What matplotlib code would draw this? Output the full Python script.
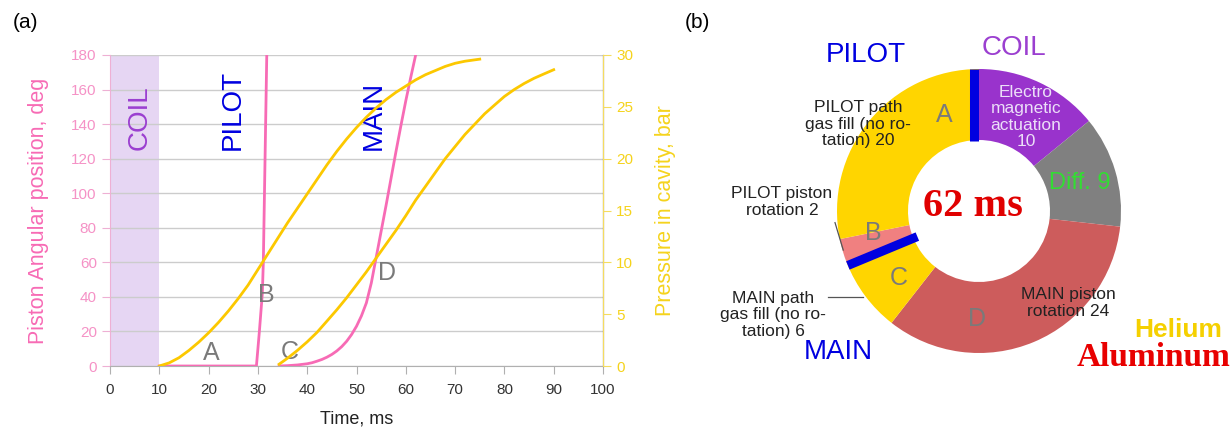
import matplotlib
matplotlib.use('Agg')
import matplotlib.pyplot as plt
import numpy as np

plt.rcParams['font.family'] = ['Liberation Sans', 'DejaVu Sans']

# (a) piston angle (deg) and cavity pressure (bar) vs time (ms)
pilot_angle_t = [10, 29.7, 30.3, 30.9, 31.1, 31.8]
pilot_angle = [0, 0, 20, 42, 60, 180]

main_angle_t = [34.3, 36, 38, 40, 41, 42, 43, 44, 45, 46, 47, 48, 49, 50, 51, 52, 53,
                54, 55, 56, 57, 58, 59, 60, 61, 62]
main_angle = [0, 0.2, 0.6, 1.3, 1.9, 2.8, 3.8, 5.1, 6.7, 8.7, 11.2, 14.3, 18.2, 23, 29,
              36.5, 48, 63, 78, 93, 108.5, 124, 139, 153.5, 167, 180]

pilot_press_t = [10, 12, 14, 16, 18, 20, 22, 24, 26, 28, 30, 32, 34, 36, 38, 40, 42,
                 44, 46, 48, 50, 52, 54, 56, 58, 60, 62, 64, 66, 68, 70, 72, 75]
pilot_press = [0, 0.3, 0.8, 1.5, 2.3, 3.2, 4.2, 5.3, 6.5, 7.8, 9.3, 10.8, 12.3, 13.8,
               15.2, 16.6, 18.0, 19.4, 20.7, 21.9, 23.0, 24.0, 24.9, 25.7, 26.4, 27.0,
               27.6, 28.1, 28.5, 28.9, 29.2, 29.4, 29.6]

main_press_t = [34.3, 36, 38, 40, 42, 44, 46, 48, 50, 52, 54, 56, 58, 60, 62, 64, 66,
                68, 70, 72, 74, 76, 78, 80, 82, 84, 86, 88, 90]
main_press = [0.17, 0.75, 1.5, 2.33, 3.25, 4.33, 5.42, 6.58, 7.83, 9.08, 10.42, 11.75,
              13.08, 14.5, 16.0, 17.33, 18.67, 20.0, 21.17, 22.33, 23.33, 24.33, 25.17,
              26.0, 26.67, 27.25, 27.75, 28.17, 28.58]

coil_span = (0, 10)
phase_letters = ['A', 'B', 'C', 'D']
phase_letter_xy = [(20.6, 7.3), (31.8, 41), (36.5, 8.3), (56.1, 53.6)]
stage_names = ['COIL', 'PILOT', 'MAIN']
stage_x = [6.1, 24.9, 53.4]

# (b) time budget donut, clockwise from the top
seg_values = [10, 9, 24, 6, 2, 20]
seg_colors = ['#9933cc', '#808080', '#cd5c5c', '#ffd500', '#f08080', '#ffd500']
total_ms = 62

PINK = '#f76bb5'
PINK_T = '#f592c6'
YEL = '#fcc800'
YEL_T = '#f5d31c'
BLUE = '#0000e0'
PURP = '#9b3fd0'
GRAY_L = '#7a7a7a'

W, H = 1231, 430
fig = plt.figure(figsize=(W / 100, H / 100), dpi=100)


def fx(x, y):
    return x / W, 1 - y / H


# ---------------- panel (a) ----------------
ax = fig.add_axes([110 / W, 1 - 366 / H, (603 - 110) / W, (366 - 55) / H])
ax2 = ax.twinx()

ax.axvspan(*coil_span, color='#e6d6f3', lw=0, zorder=0)
ax.plot(pilot_angle_t, pilot_angle, color=PINK, lw=2, zorder=3)
ax.plot(main_angle_t, main_angle, color=PINK, lw=2, zorder=3)
ax2.plot(pilot_press_t, pilot_press, color=YEL, lw=2, zorder=3)
ax2.plot(main_press_t, main_press, color=YEL, lw=2, zorder=3)

ax.set_xlim(0, 100)
ax.set_ylim(0, 180)
ax2.set_ylim(0, 30)
ax.set_xticks(np.arange(0, 101, 10))
ax.set_yticks(np.arange(0, 181, 20))
ax2.set_yticks(np.arange(0, 31, 5))
ax.grid(axis='y', color='#cccccc', lw=1)
ax.set_axisbelow(True)

for a in (ax, ax2):
    a.spines['top'].set_visible(False)
ax.spines['left'].set_color('#eeb0d4')
ax.spines['bottom'].set_color('#b0b0b0')
ax2.spines['left'].set_visible(False)
ax2.spines['bottom'].set_visible(False)
ax2.spines['right'].set_color('#f5dc60')

ax.tick_params(axis='x', colors='#b0b0b0', labelcolor='#333333', labelsize=11,
               length=6, pad=6)
ax.tick_params(axis='y', colors='#eeb0d4', labelcolor=PINK_T, labelsize=11, length=6)
ax2.tick_params(axis='y', colors='#f5dc60', labelcolor=YEL_T, labelsize=11, length=6)

ax.set_xlabel('Time, ms', fontsize=13, color='#222222', labelpad=10)
ax.set_ylabel('Piston Angular position, deg', fontsize=15.5, color=PINK, labelpad=16)
ax2.set_ylabel('Pressure in cavity, bar', fontsize=15.5, color=YEL_T, labelpad=16)

for name, x, c in zip(stage_names, stage_x, [PURP, BLUE, BLUE]):
    ax.text(x, 125, name, rotation=90, ha='center', va='bottom', fontsize=20,
            color=c, zorder=4)
for s, (x, y) in zip(phase_letters, phase_letter_xy):
    ax.text(x, y, s, ha='center', va='center', fontsize=18, color=GRAY_L, zorder=5)

fig.text(*fx(25, 22), '(a)', fontsize=15, ha='center', va='center')
fig.text(*fx(697, 22), '(b)', fontsize=15, ha='center', va='center')

# ---------------- panel (b) ----------------
cx, cy, R = 979, 211, 142
axp = fig.add_axes([(cx - R) / W, 1 - (cy + R) / H, 2 * R / W, 2 * R / H])
axp.pie(seg_values, colors=seg_colors, startangle=90, counterclock=False,
        wedgeprops=dict(width=0.5, linewidth=0))
axp.set_xlim(-1, 1)
axp.set_ylim(-1, 1)
axp.set_aspect('equal')
axp.axis('off')

# blue separators: start of the coil phase, and the C/B boundary
edges = 90 - 360 * np.cumsum(seg_values) / sum(seg_values)
th = np.deg2rad(edges[3] + 1)
axp.plot([-0.032, -0.032], [0.49, 1.0], color=BLUE, lw=6.5, solid_capstyle='butt',
         zorder=5, clip_on=False)
axp.plot([0.47 * np.cos(th), 1.0 * np.cos(th)], [0.47 * np.sin(th), 1.0 * np.sin(th)],
         color=BLUE, lw=6.5, solid_capstyle='butt', zorder=5, clip_on=False)

# leader lines
axp.plot([-1.014, -0.956], [-0.082, -0.275], color='#555555', lw=0.9, clip_on=False)
axp.plot([-1.061, -0.815], [-0.604, -0.604], color='#555555', lw=0.9, clip_on=False)


def t(x, y, s, **kw):
    fig.text(*fx(x, y), s, ha='center', va='center', **kw)


t(866, 55, 'PILOT', fontsize=20, color=BLUE)
t(1014, 48, 'COIL', fontsize=20, color=PURP)
t(838, 352, 'MAIN', fontsize=20, color=BLUE)
t(858, 124, 'PILOT path\ngas fill (no ro-\ntation) 20', fontsize=12.5,
  color='#222222', linespacing=1.1)
t(782, 202, 'PILOT piston\nrotation 2', fontsize=12.5, color='#222222', linespacing=1.1)
t(773, 315, 'MAIN path\ngas fill (no ro-\ntation) 6', fontsize=12.5, color='#222222',
  linespacing=1.1)
t(1068, 303, 'MAIN piston\nrotation 24', fontsize=12.5, color='#222222', linespacing=1.1)
t(1026, 117, 'Electro\nmagnetic\nactuation\n10', fontsize=12.5, color='#ecdff8',
  linespacing=1.1)
t(1080, 183, 'Diff. 9', fontsize=17, color='#33dd33')
t(944, 115, 'A', fontsize=18, color=GRAY_L)
t(873, 233, 'B', fontsize=18, color=GRAY_L)
t(899, 278, 'C', fontsize=18, color=GRAY_L)
t(977, 319, 'D', fontsize=18, color=GRAY_L)
t(973, 206, f'{total_ms} ms', fontsize=29, color='#e00000', fontweight='bold',
  family='Liberation Serif')
t(1178, 330, 'Helium', fontsize=19, color='#f5d000', fontweight='bold')
t(1154, 358, 'Aluminum', fontsize=24, color='#e80000', fontweight='bold',
  family='Liberation Serif')

fig.savefig('out.png', dpi=100)
